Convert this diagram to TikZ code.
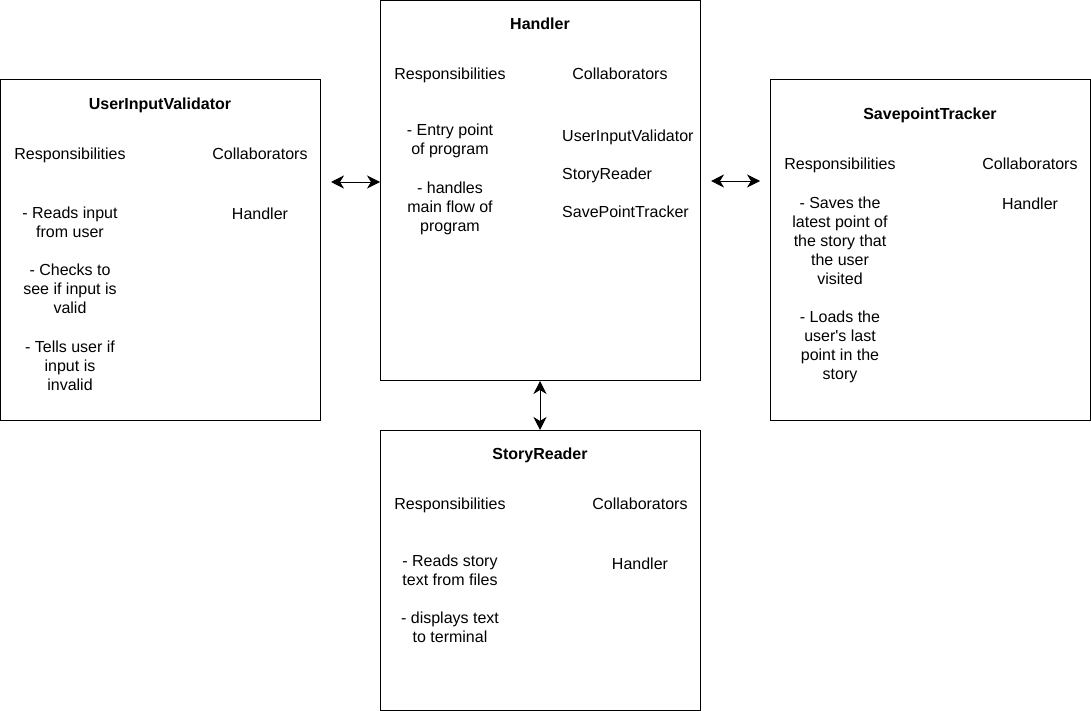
\documentclass[tikz,border=0pt]{standalone}
\usepackage{fontspec}
\setmainfont{Liberation Sans}[Ligatures=TeXOff]
\usetikzlibrary{arrows.meta}
\begin{document}
\begin{tikzpicture}[x=1pt,y=-1pt,
  box/.style={draw=black,line width=1pt,fill=white,inner sep=0pt},
  txt/.style={inner sep=0pt,align=center,font=\fontsize{16}{19}\selectfont},
  sgl/.style={txt,text height=11.5pt,text depth=0pt},
  ttl/.style={sgl,font=\fontsize{16}{19}\selectfont\bfseries},
  tip/.style={Stealth[length=13pt,width=13pt,inset=4pt]},
  conn/.style={{Stealth[length=13pt,width=13pt,inset=4pt]}-{Stealth[length=13pt,width=13pt,inset=4pt]},line width=0.9pt}]
\useasboundingbox (0,0) rectangle (1091,711);
% boxes
\node[box,minimum width=320pt,minimum height=340pt] (uiv) at (160.5,250) {};
\node[box,minimum width=320pt,minimum height=380pt] (hdl) at (540.5,190.5) {};
\node[box,minimum width=320pt,minimum height=340pt] (spt) at (930.5,250) {};
\node[box,minimum width=320pt,minimum height=280pt] (str) at (540.5,570.5) {};
% UserInputValidator
\node[ttl] (uivT) at (160,104) {UserInputValidator};
\node[sgl] (uivR) at (70,154) {Responsibilities};
\node[sgl] (uivC) at (260,154) {Collaborators};
\node[txt] (uivB1) at (70,222.5) {- Reads input\\from user};
\node[txt] (uivB2) at (70,289) {- Checks to\\see if input is\\valid};
\node[txt] (uivB3) at (70,366) {- Tells user if\\input is\\invalid};
\node[sgl] (uivH) at (260,214) {Handler};
% Handler
\node[ttl] (hdlT) at (540,24) {Handler};
\node[sgl] (hdlR) at (450,74) {Responsibilities};
\node[sgl] (hdlC) at (620,74) {Collaborators};
\node[txt] (hdlB1) at (450,140.5) {- Entry point\\of program};
\node[txt] (hdlB2) at (450,208) {- handles\\main flow of\\program};
\node[sgl,anchor=west] (hdlC1) at (562,136) {UserInputValidator};
\node[sgl,anchor=west] (hdlC2) at (562,174) {StoryReader};
\node[sgl,anchor=west] (hdlC3) at (562,212) {SavePointTracker};
% SavepointTracker
\node[ttl] (sptT) at (930,114) {SavepointTracker};
\node[sgl] (sptR) at (840,164) {Responsibilities};
\node[sgl] (sptC) at (1030,164) {Collaborators};
\node[txt] (sptB1) at (840,241) {- Saves the\\latest point of\\the story that\\the user\\visited};
\node[txt] (sptB2) at (840,346.5) {- Loads the\\user's last\\point in the\\story};
\node[sgl] (sptH) at (1030,204) {Handler};
% StoryReader
\node[ttl] (strT) at (540,454) {StoryReader};
\node[sgl] (strR) at (450,504) {Responsibilities};
\node[sgl] (strC) at (640,504) {Collaborators};
\node[txt] (strB1) at (450,570.5) {- Reads story\\text from files};
\node[txt] (strB2) at (450,627.5) {- displays text\\to terminal};
\node[sgl] (strH) at (640,564) {Handler};
% connectors
\draw[conn] ([xshift=10pt]uiv.east |- 0,182) -- (hdl.west |- 0,182);
\draw[conn] ([xshift=10pt]hdl.east |- 0,181) -- ([xshift=-10pt]spt.west |- 0,181);
\draw[conn] (hdl.south -| 540,0) -- (str.north -| 540,0);
\end{tikzpicture}
\end{document}
